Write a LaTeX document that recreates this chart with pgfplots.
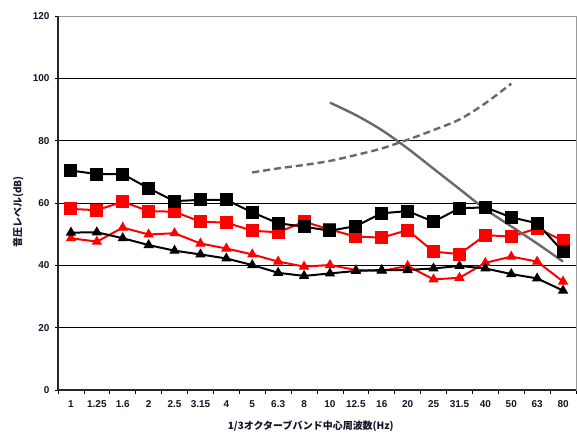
\documentclass[border=0pt]{standalone}
\usepackage{pgfplots}
\pgfplotsset{compat=1.18}
\usepackage{fontspec}
\setmainfont{Liberation Sans}
\newfontfamily\cjk{Noto Sans CJK JP}
\definecolor{txt}{RGB}{20,20,40}
\definecolor{gline}{RGB}{105,105,105}
\pgfplotstableread{
x bsq rsq btri rtri
0 70.4 58.1 50.5 48.7
1 69.3 57.7 50.6 47.6
2 69.3 60.4 48.7 52.1
3 64.7 57.4 46.5 49.9
4 60.6 57.2 44.7 50.3
5 61.0 54.0 43.5 47.0
6 61.0 53.7 42.2 45.4
7 57.0 51.1 40.1 43.5
8 53.5 50.6 37.6 41.2
9 52.4 54.0 36.6 39.6
10 51.1 51.5 37.4 40.1
11 52.6 49.2 38.2 38.5
12 56.7 48.9 38.5 38.2
13 57.4 51.3 38.5 39.8
14 54.0 44.4 39.0 35.5
15 58.3 43.6 39.8 36.0
16 58.6 49.7 39.0 40.8
17 55.4 49.2 37.2 42.8
18 53.5 51.9 35.8 41.2
19 44.4 47.9 31.9 34.8
}\main
\pgfplotstableread{
x y
7 69.8
8 71.1
9 72.2
10 73.5
11 75.4
12 77.5
13 80.3
14 83.4
15 86.8
16 92.0
17 98.3
}\dashed
\pgfplotstableread{
x y
10 92.2
11 88.2
12 83.4
13 77.5
14 71.0
15 64.5
16 58.0
17 52.5
18 47.0
19 41.2
}\solid
\begin{document}
\begin{tikzpicture}
\useasboundingbox (0,0) rectangle (577bp,436bp);
\begin{axis}[
  at={(58bp,46bp)}, anchor=south west,
  scale only axis, width=518bp, height=374bp,
  xmin=-0.5, xmax=19.5, ymin=0, ymax=120,
  xtick={0,...,19},
  xticklabels={1,1.25,1.6,2,2.5,3.15,4,5,6.3,8,10,12.5,16,20,25,31.5,40,50,63,80},
  minor xtick={-0.5,0.5,...,19.5},
  major x tick style={draw=none},
  minor x tick style={draw=black, line width=0.8pt},
  minor tick length=4bp,
  ytick={0,20,...,120},
  ymajorgrids,
  major grid style={black, line width=0.9pt},
  y tick style={black, line width=0.8pt},
  major tick length=3bp,
  tick align=outside,
  xtick pos=bottom, ytick pos=left,
  axis line style={draw=gray!80, line width=0.8pt},
  tick label style={font=\fontsize{10}{12}\selectfont\bfseries, text=txt},
  xticklabel style={yshift=-4bp},
  yticklabel style={xshift=-2bp},
  /pgf/number format/assume math mode=true,
  xlabel={\cjk\bfseries 1/3オクターブバンド中心周波数(Hz)},
  ylabel={\cjk\bfseries 音圧レベル(dB)},
  label style={font=\fontsize{10}{12}\selectfont, text=txt},
  xlabel style={at={(axis description cs:0.488,-0.096)}, anchor=center},
  ylabel style={at={(axis description cs:-0.077,0.476)}, anchor=center, rotate=0},
  clip=false,
]
\addplot[red, line width=2bp, mark=triangle*, mark size=5bp, mark options={solid, line width=1bp}] table[x=x,y=rtri] {\main};
\addplot[black, line width=2bp, mark=triangle*, mark size=5bp, mark options={solid, line width=1bp}] table[x=x,y=btri] {\main};
\addplot[red, line width=2bp, mark=square*, mark size=6bp, mark options={solid, line width=1bp}] table[x=x,y=rsq] {\main};
\addplot[black, line width=2bp, mark=square*, mark size=6bp, mark options={solid, line width=1bp}] table[x=x,y=bsq] {\main};
\addplot[gline, line width=2.4bp, dash pattern=on 7bp off 4bp, smooth, no marks] table[x=x,y=y] {\dashed};
\addplot[gline, line width=2.4bp, smooth, no marks] table[x=x,y=y] {\solid};
\draw[black!85, line width=1.6bp] (rel axis cs:0,1) -- (rel axis cs:0,0) -- (rel axis cs:1,0);
\end{axis}
\end{tikzpicture}
\end{document}
